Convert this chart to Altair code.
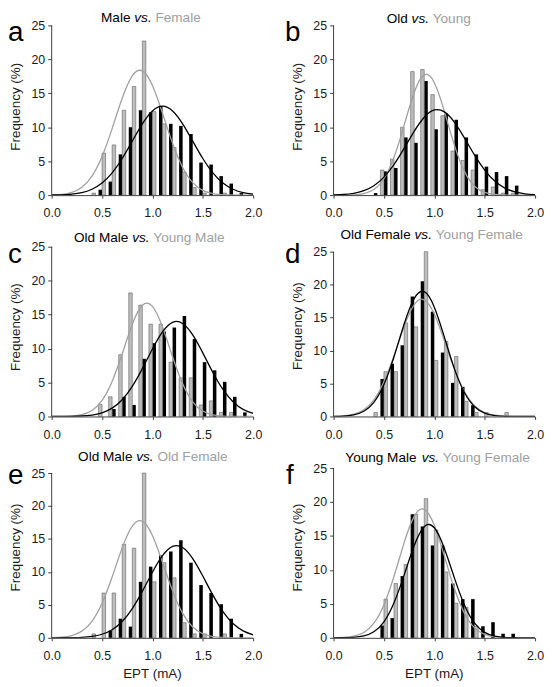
import altair as alt
import pandas as pd

# ---------------- data ----------------
bins = [0.4, 0.5, 0.6, 0.7, 0.8, 0.9, 1.0, 1.1, 1.2, 1.3, 1.4, 1.5, 1.6, 1.7, 1.8, 1.9]

male = [0.0, 0.8, 2.0, 6.0, 10.0, 12.5, 12.2, 13.1, 10.5, 10.2, 9.0, 4.8, 4.5, 2.8, 1.7, 0.3]
female = [0.3, 6.2, 7.4, 12.5, 16.0, 22.7, 12.3, 10.5, 7.0, 3.4, 1.1, 0.3, 0.0, 0.3, 0.0, 0.0]
old = [0.3, 3.5, 4.0, 8.5, 7.7, 16.8, 9.7, 12.0, 11.1, 8.5, 6.0, 4.2, 3.4, 2.8, 1.4, 0.0]
young = [0.0, 3.7, 5.3, 10.0, 18.2, 18.5, 14.8, 11.7, 6.5, 5.1, 3.7, 0.8, 1.2, 0.3, 0.3, 0.0]
old_male = [0.0, 0.0, 1.1, 2.9, 1.7, 8.5, 10.8, 12.5, 13.1, 14.8, 11.4, 8.0, 6.8, 5.1, 2.9, 0.6]
young_male = [0.0, 1.8, 2.9, 9.1, 18.2, 16.4, 13.6, 13.6, 8.0, 5.7, 5.7, 1.7, 2.3, 0.6, 0.6, 0.0]
female_set_1 = [0.6, 6.8, 6.8, 14.2, 13.6, 25.0, 8.5, 11.4, 9.1, 2.3, 0.6, 0.6, 0.0, 0.6, 0.0, 0.0]
female_set_2 = [0.0, 5.7, 8.0, 10.8, 18.2, 20.5, 15.9, 9.7, 5.1, 4.5, 1.7, 0.0, 0.0, 0.0, 0.0, 0.0]

curve_x = [0.0, 0.1, 0.2, 0.3, 0.4, 0.5, 0.6, 0.7, 0.8, 0.9, 1.0,
           1.1, 1.2, 1.3, 1.4, 1.5, 1.6, 1.7, 1.8, 1.9, 2.0]
curve_male = [0.02, 0.05, 0.15, 0.37, 0.86, 1.77, 3.27, 5.39, 7.95, 10.49, 12.39,
              13.1, 12.39, 10.49, 7.95, 5.39, 3.27, 1.77, 0.86, 0.37, 0.15]
curve_female = [0.03, 0.12, 0.41, 1.17, 2.81, 5.70, 9.80, 14.26, 17.56, 18.30, 16.16,
                12.07, 7.63, 4.08, 1.85, 0.71, 0.23, 0.06, 0.02, 0.0, 0.0]
curve_old = [0.04, 0.10, 0.27, 0.65, 1.39, 2.65, 4.51, 6.88, 9.39, 11.47, 12.54,
             12.26, 10.73, 8.40, 5.89, 3.69, 2.07, 1.04, 0.47, 0.19, 0.07]
curve_young = [0.0, 0.01, 0.05, 0.23, 0.83, 2.41, 5.57, 10.28, 15.12, 17.72, 16.55,
               12.33, 7.32, 3.46, 1.31, 0.39, 0.09, 0.02, 0.0, 0.0, 0.0]
curve_old_male = [0.0, 0.01, 0.02, 0.07, 0.21, 0.54, 1.23, 2.47, 4.43, 7.04, 9.94,
                  12.46, 13.87, 13.70, 12.02, 9.37, 6.48, 3.98, 2.17, 1.05, 0.45]
curve_young_male = [0.0, 0.02, 0.07, 0.27, 0.89, 2.36, 5.16, 9.23, 13.57, 16.37, 16.21,
                    13.17, 8.79, 4.81, 2.16, 0.80, 0.24, 0.06, 0.01, 0.0, 0.0]
curve_female_set_1 = [0.02, 0.10, 0.34, 1.01, 2.51, 5.25, 9.23, 13.65, 16.95, 17.70, 15.54,
                      11.47, 7.12, 3.71, 1.63, 0.60, 0.19, 0.05, 0.01, 0.0, 0.0]
curve_female_set_2 = [0.01, 0.06, 0.24, 0.79, 2.15, 4.85, 9.06, 13.99, 17.88, 18.93, 16.58,
                      12.03, 7.22, 3.59, 1.47, 0.50, 0.14, 0.03, 0.01, 0.0, 0.0]

x_ticks = [0.0, 0.5, 1.0, 1.5, 2.0]
y_ticks = [0, 5, 10, 15, 20, 25]
x_title = "EPT (mA)"
y_title = "Frequency (%)"

panels = [
    dict(letter="a", left="Male", right="Female", black=male, grey=female,
         bc=curve_male, gc=curve_female, black_first=True, tall=True,
         cx=100, ty=-7.5, lx=-44, xtitle=False, yty=82),
    dict(letter="b", left="Old", right="Young", black=old, grey=young,
         bc=curve_old, gc=curve_young, black_first=False, tall=True,
         cx=96.5, ty=-6.0, lx=-49, xtitle=False, yty=82),
    dict(letter="c", left="Old Male", right="Young Male", black=old_male, grey=young_male,
         bc=curve_old_male, gc=curve_young_male, black_first=False, tall=True,
         cx=99, ty=-9, lx=-44, xtitle=False, yty=81),
    dict(letter="d", left="Old Female", right="Young Female", black=female_set_2, grey=female_set_1,
         bc=curve_female_set_2, gc=curve_female_set_1, black_first=True, tall=False,
         cx=99.5, ty=-11.7, lx=-49, xtitle=False, yty=80),
    dict(letter="e", left="Old Male", right="Old Female", black=old_male, grey=female_set_1,
         bc=curve_old_male, gc=curve_female_set_1, black_first=True, tall=False,
         cx=102, ty=-11.6, lx=-44, xtitle=True, yty=80),
    dict(letter="f", left="Young Male", right="Young Female", black=young_male, grey=female_set_2,
         bc=curve_young_male, gc=curve_female_set_2, black_first=True, tall=True,
         cx=105.5, ty=-10, lx=-48, xtitle=True, yty=80),
]

# ---------------- styling ----------------
FONT = "Liberation Sans, Arial, Helvetica, sans-serif"
AX = "#404040"
LABEL = "#1a1a1a"
GREY_BAR = "#bdbdbd"
GREY_LINE = "#a0a0a0"
GREY_TEXT = "#a0a0a0"
W, H = 203, 171
BAR_W = 0.035
TITLE_SIZE = 13.7
AXIS_TITLE_SIZE = 13.5
LABEL_SIZE = 12.5

ARIAL_W = {" ": 278, ".": 278, "F": 611, "M": 833, "O": 778, "Y": 667, "a": 556,
           "d": 556, "e": 556, "g": 556, "l": 222, "m": 833, "n": 556, "o": 556,
           "s": 500, "u": 556, "v": 500}


def text_w(s, size):
    return sum(ARIAL_W.get(c, 556) for c in s) * size / 1000.0


def text_layer(s, x, y, size, color, align="left", baseline="middle", style="normal", angle=0):
    return alt.Chart(pd.DataFrame({"t": [s]})).mark_text(
        align=align, baseline=baseline, fontSize=size, font=FONT,
        color=color, fontStyle=style, angle=angle
    ).encode(x=alt.value(x), y=alt.value(y), text="t:N")


def make_panel(p):
    ymax = 25.0 if p["tall"] else 25.0 * H / 166.0
    xsc = alt.Scale(domain=[0, 2], nice=False, zero=False)
    ysc = alt.Scale(domain=[0, ymax], nice=False)
    x_axis = alt.Axis(values=x_ticks, format=".1f", grid=False, tickSize=3, labelPadding=9,
                      domainColor=AX, tickColor=AX, labelColor=LABEL, labelFontSize=LABEL_SIZE,
                      labelFont=FONT, labelFlush=False, title=None)
    y_axis = alt.Axis(values=y_ticks, title=None, domain=False, grid=False, tickSize=4,
                      labelPadding=3, tickColor=AX, labelColor=LABEL,
                      labelFontSize=LABEL_SIZE, labelFont=FONT)
    X = alt.X("x:Q", scale=xsc, axis=x_axis)
    Y = alt.Y("y:Q", scale=ysc, axis=y_axis)

    brows, grows = [], []
    for b, vb, vg in zip(bins, p["black"], p["grey"]):
        bx = b - BAR_W if p["black_first"] else b
        gx = b if p["black_first"] else b - BAR_W
        if vb > 0:
            brows.append({"x": bx, "x2": bx + BAR_W, "y": vb, "y0": 0.0})
        if vg > 0:
            grows.append({"x": gx, "x2": gx + BAR_W, "y": vg, "y0": 0.0})

    bars_black = alt.Chart(pd.DataFrame(brows)).mark_rect(color="#000000").encode(
        x=X, x2="x2:Q", y=Y, y2="y0:Q")
    bars_grey = alt.Chart(pd.DataFrame(grows)).mark_rect(
        color=GREY_BAR, stroke="#4a4a4a", strokeWidth=0.5).encode(
        x=X, x2="x2:Q", y=Y, y2="y0:Q")
    line_grey = alt.Chart(pd.DataFrame({"x": curve_x, "y": p["gc"]})).mark_line(
        color=GREY_LINE, strokeWidth=1.3, interpolate="natural", clip=True).encode(x=X, y=Y)
    line_black = alt.Chart(pd.DataFrame({"x": curve_x, "y": p["bc"]})).mark_line(
        color="#000000", strokeWidth=1.3, interpolate="natural", clip=True).encode(x=X, y=Y)
    axis_line = alt.Chart(pd.DataFrame({"x": [0.0], "y": [0.0], "y2": [25.0]})).mark_rule(
        color=AX, strokeWidth=1).encode(x=X, y=Y, y2="y2:Q")

    layers = [bars_black, bars_grey, line_grey, line_black, axis_line]

    layers.append(text_layer(p["letter"], p["lx"], 16, 28, "#000000", baseline="alphabetic"))
    layers.append(text_layer(y_title, -36, p["yty"], AXIS_TITLE_SIZE, LABEL,
                             align="center", angle=270))
    if p["xtitle"]:
        layers.append(text_layer(x_title, W / 2, H + 36, AXIS_TITLE_SIZE, LABEL, align="center"))

    w1 = text_w(p["left"], TITLE_SIZE)
    wv = text_w("vs.", TITLE_SIZE)
    w2 = text_w(p["right"], TITLE_SIZE)
    sp = text_w(" ", TITLE_SIZE)
    x0 = p["cx"] - (w1 + wv + w2 + 2 * sp) / 2
    layers.append(text_layer(p["left"], x0, p["ty"], TITLE_SIZE, "#000000"))
    layers.append(text_layer("vs.", x0 + w1 + sp, p["ty"], TITLE_SIZE, "#000000", style="italic"))
    layers.append(text_layer(p["right"], x0 + w1 + 2 * sp + wv, p["ty"], TITLE_SIZE, GREY_TEXT))

    return alt.layer(*layers).properties(width=W, height=H)


charts = [make_panel(p) for p in panels]
chart = alt.concat(*charts, columns=2, spacing={"row": 52, "column": 81},
                   bounds="flush").properties(padding=0).configure(
    font=FONT).configure_view(stroke=None)

chart.save("out.html", embed_options={"renderer": "svg", "actions": False})
